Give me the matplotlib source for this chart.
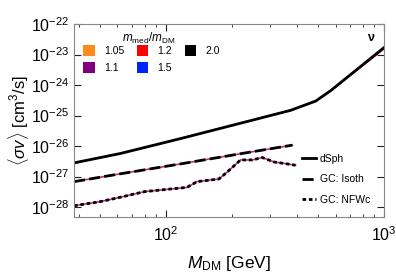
import numpy as np
import matplotlib
matplotlib.use('Agg')
import matplotlib.pyplot as plt
from matplotlib.lines import Line2D
from matplotlib.patches import Patch

plt.rcParams['font.family'] = ['Liberation Sans', 'DejaVu Sans']
plt.rcParams['mathtext.fontset'] = 'custom'
plt.rcParams['mathtext.rm'] = 'Liberation Sans'
plt.rcParams['mathtext.it'] = 'Liberation Sans:italic'

# data
m_dsph = [38, 62, 117, 220, 373, 486, 570, 1000]
sv_dsph = [2.8e-27, 5.7e-27, 1.76e-26, 5.6e-26, 1.48e-25, 2.98e-25, 6.6e-25, 1.7e-23]
sv_dsph_red = [2.8e-27, 5.7e-27, 1.76e-26, 5.6e-26, 1.48e-25, 2.98e-25, 6.5e-25, 1.55e-23]

m_iso = [38, 62, 117, 220, 380]
sv_iso = [6.8e-28, 1.23e-27, 2.6e-27, 5.6e-27, 1.07e-26]

m_nfw = [38, 50, 62, 80, 105, 125, 139, 175, 191, 220, 249, 277, 313, 347, 393]
sv_nfw = [1.1e-28, 1.5e-28, 2.1e-28, 3.2e-28, 3.9e-28, 4.4e-28, 6.8e-28, 8.3e-28,
          1.4e-27, 3.5e-27, 3.5e-27, 4.2e-27, 3.0e-27, 2.7e-27, 2.35e-27]

ratios = ['1.05', '1.1', '1.2', '1.5', '2.0']
colors = ['#ff8c1a', '#800080', '#ff0000', '#0022ff', '#000000']

fig = plt.figure(figsize=(3.96, 2.73), dpi=100)
ax = fig.add_axes([0.187, 0.205, 0.783, 0.707])

# coloured curves underneath (mostly hidden by the black ones)
ax.plot(m_dsph, sv_dsph_red, color='#e0206a', lw=1.2)
ax.plot(m_iso, sv_iso, color='#c0307a', lw=1.2)
ax.plot(m_nfw, sv_nfw, color='#c0307a', lw=1.2)

ax.plot(m_dsph, sv_dsph, color='k', lw=2)
ax.plot(m_iso, sv_iso, color='k', lw=2, dashes=(4, 1.5))
ax.plot(m_nfw, sv_nfw, color='k', lw=2, dashes=(1.3, 1.0))

ax.set_xscale('log')
ax.set_yscale('log')
ax.set_xlim(38, 1000)
ax.set_ylim(4.7e-29, 1e-22)
ax.set_yticks([1e-28, 1e-27, 1e-26, 1e-25, 1e-24, 1e-23, 1e-22])

for s in ax.spines.values():
    s.set_color('#888888')
ax.tick_params(which='both', direction='in', top=True, right=True, labelsize=11.5, color='#222222')
ax.tick_params(which='major', length=5, width=0.8)
ax.tick_params(axis='x', which='major', pad=6)
ax.tick_params(which='minor', length=2.5, width=0.6)

ax.set_xlabel(r'$M_{\rm DM}$ [GeV]', fontsize=12.5, labelpad=7)
ax.set_ylabel(r'$\langle\sigma v\rangle$ [cm$^3$/s]', fontsize=12, labelpad=0)

ax.text(0.955, 0.93, 'ν', transform=ax.transAxes, fontsize=9, fontweight='bold', ha='center', va='center')

# legend for mass ratios
ax.text(0.242, 0.927, r'$m_{\rm med}/m_{\rm DM}$', transform=ax.transAxes, fontsize=8.5,
        ha='center', va='center')
handles = [Patch(facecolor=c, edgecolor='none') for c in colors]
leg1 = ax.legend(handles, ratios, ncol=3, loc='upper left', bbox_to_anchor=(0.029, 0.89),
                 frameon=False, fontsize=7.5, borderpad=0, borderaxespad=0,
                 handlelength=1.1, handleheight=1.2, columnspacing=1.2, handletextpad=0.9,
                 labelspacing=0.6)
ax.add_artist(leg1)

# legend for line styles
lines = [Line2D([], [], color='k', lw=2),
         Line2D([], [], color='k', lw=2, dashes=(4, 1.5)),
         Line2D([], [], color='k', lw=2, dashes=(1.3, 1.0))]
ax.legend(lines, ['dSph', 'GC: Isoth', 'GC: NFWc'], loc='lower right', frameon=False,
          fontsize=7.5, handlelength=1.3, handletextpad=0.4, labelspacing=1.0,
          bbox_to_anchor=(0.985, 0.015))

fig.savefig('out.png', dpi=100)
